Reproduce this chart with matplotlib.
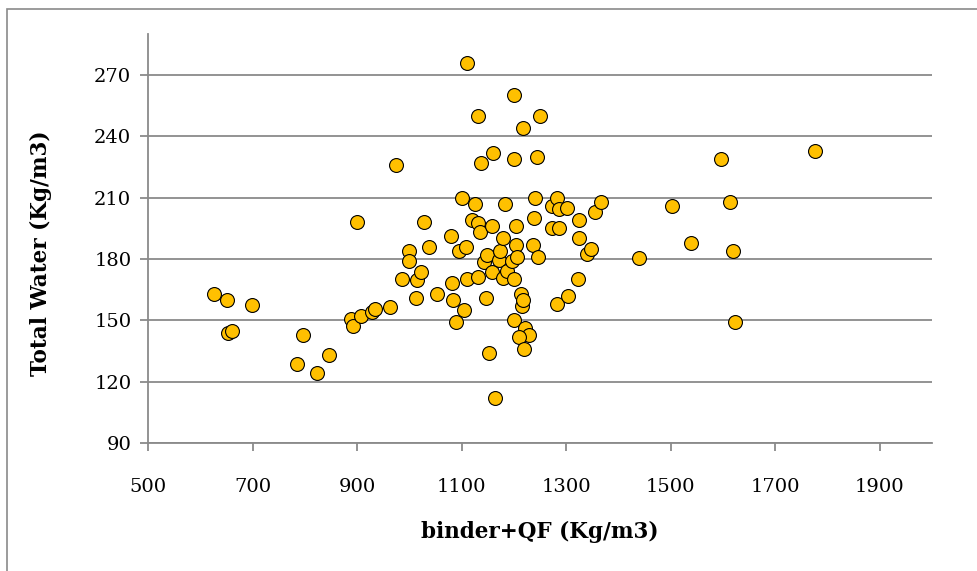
import matplotlib
matplotlib.use('Agg')
import matplotlib.pyplot as plt
from matplotlib.patches import Rectangle

# binder+QF content vs total water, one point per mix
binder_qf = [626, 651, 653, 660, 699, 785, 796, 823, 846, 888,
             892, 900, 907, 928, 934, 963, 974, 986, 999, 999,
             1013, 1014, 1022, 1028, 1037, 1053, 1079, 1081, 1084, 1089,
             1095, 1100, 1104, 1108, 1110, 1110, 1120, 1125, 1131, 1131,
             1131, 1135, 1137, 1143, 1146, 1148, 1152, 1158, 1158, 1160,
             1164, 1171, 1173, 1179, 1179, 1183, 1187, 1196, 1200, 1200,
             1200, 1200, 1204, 1204, 1206, 1213, 1215, 1217, 1217, 1221,
             1229, 1210, 1219, 1236, 1238, 1240, 1244, 1247, 1250, 1273,
             1273, 1282, 1282, 1286, 1286, 1301, 1303, 1322, 1324, 1324,
             1339, 1347, 1355, 1366, 1439, 1502, 1538, 1596, 1613, 1619,
             1624, 1776]
total_water = [163, 160, 144, 145, 157.5, 128.6, 143, 124, 133, 150.7,
               147, 198, 152, 154, 155.6, 156.6, 226, 170, 184, 179,
               161, 169.6, 173.7, 198, 186, 163, 191, 168, 160, 149,
               184, 210, 155, 185.6, 170, 276, 199, 207, 197.6, 171,
               250, 193, 227, 178.5, 161, 182, 134, 196, 173.6, 232,
               112, 179.5, 184, 190, 170.7, 207, 174.2, 179, 170, 229,
               260, 150, 196, 187, 181, 163, 157, 160, 244, 146,
               143, 142, 136, 187, 200, 210, 230, 181, 250, 195,
               206, 210, 158, 204.5, 195, 205, 162, 170, 199, 190,
               182.5, 185, 203, 208, 180.5, 206, 188, 229, 208, 184,
               149, 233]

x_ticks = [500, 700, 900, 1100, 1300, 1500, 1700, 1900]
y_ticks = [90, 120, 150, 180, 210, 240, 270]

fig = plt.figure(figsize=(9.78, 5.71), dpi=100)
ax = fig.add_axes([0.1513, 0.2242, 0.8017, 0.7163])

grey = '#8a8a8a'
ax.scatter(binder_qf, total_water, s=100, c='#FFC000', edgecolors='black',
           linewidths=0.8, zorder=3)

ax.set_xlim(500, 2000)
ax.set_ylim(90, 290)
ax.set_xticks(x_ticks)
ax.set_yticks(y_ticks)
ax.yaxis.grid(True, color=grey, linewidth=1.3)
ax.set_axisbelow(True)

for side in ['top', 'right']:
    ax.spines[side].set_visible(False)
for side in ['left', 'bottom']:
    ax.spines[side].set_color(grey)
    ax.spines[side].set_linewidth(1.3)

ax.tick_params(axis='both', direction='out', length=6, width=1.3, color=grey,
               labelsize=14, pad=6)
ax.tick_params(axis='x', pad=19)
for lab in ax.get_xticklabels() + ax.get_yticklabels():
    lab.set_family('DejaVu Serif')

ax.set_xlabel('binder+QF (Kg/m3)', family='DejaVu Serif', fontweight='bold',
              fontsize=15.5, labelpad=18)
ax.set_ylabel('Total Water (Kg/m3)', family='DejaVu Serif', fontweight='bold',
              fontsize=15.5)
ax.yaxis.set_label_coords(-0.123, 0.465)

# outer chart frame (runs off the right and bottom edges)
fig.patches.append(Rectangle((7 / 978, -0.1), 1.2, 1 - 9 / 571 + 0.1,
                             transform=fig.transFigure, fill=False,
                             edgecolor=grey, linewidth=1.2))

fig.savefig('out.png', dpi=100)
